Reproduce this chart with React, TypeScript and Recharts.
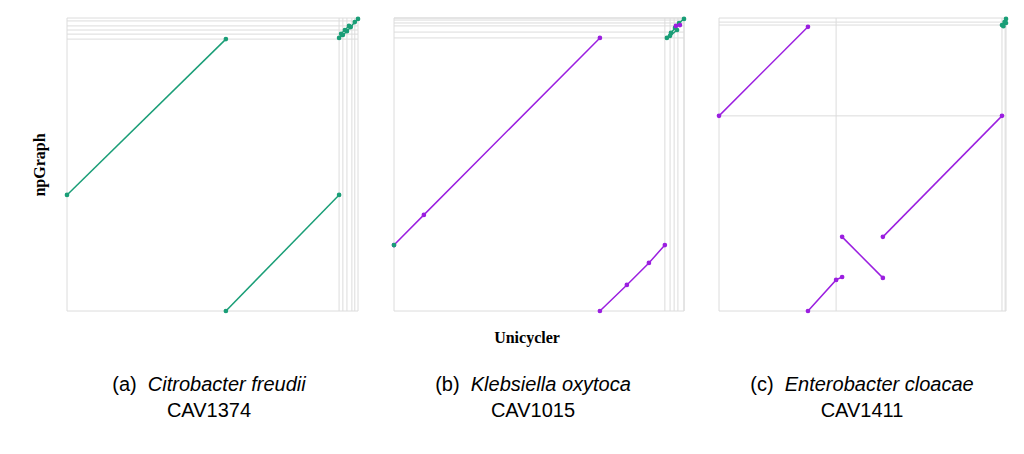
import React from 'react';
import { LineChart, Line, XAxis, YAxis, ReferenceLine } from 'recharts';

type Pt = { x: number; y: number };

const GREEN = '#1a9e77';
const PURPLE = '#9b1fe0';

// panel a: Citrobacter freudii CAV1374
const aSegments: { pts: Pt[]; color: string }[] = [
  { pts: [{ x: 0, y: 39.6 }, { x: 54.6, y: 92.8 }], color: GREEN },
  { pts: [{ x: 54.6, y: 0 }, { x: 93.5, y: 39.6 }], color: GREEN },
  { pts: [{ x: 93.5, y: 93.2 }, { x: 94.8, y: 94.2 }, { x: 96.2, y: 95.5 }, { x: 97.5, y: 96.9 }, { x: 98.9, y: 98.6 }, { x: 100, y: 99.7 }], color: GREEN },
  { pts: [{ x: 94.2, y: 94.6 }, { x: 95.5, y: 95.9 }, { x: 96.9, y: 97.3 }], color: GREEN },
];
const aGridX = [93.5, 94.8, 96.2, 97.9, 98.9];
const aGridY = [92.8, 94.5, 95.9, 97.3, 99];

// panel b: Klebsiella oxytoca CAV1015
const bSegments: { pts: Pt[]; color: string }[] = [
  { pts: [{ x: 0, y: 22.5 }, { x: 10.3, y: 32.8 }, { x: 71, y: 93.2 }], color: PURPLE },
  { pts: [{ x: 71, y: 0 }, { x: 80.3, y: 8.9 }, { x: 87.9, y: 16.4 }, { x: 93.4, y: 22.5 }], color: PURPLE },
  { pts: [{ x: 0, y: 22.5 }], color: GREEN },
  { pts: [{ x: 94.1, y: 93.2 }, { x: 95.5, y: 94.9 }, { x: 96.9, y: 96.6 }, { x: 98.3, y: 98.3 }, { x: 100, y: 99.7 }], color: GREEN },
  { pts: [{ x: 95.2, y: 93.9 }, { x: 97.6, y: 95.9 }], color: GREEN },
  { pts: [{ x: 97.2, y: 97.3 }, { x: 98.6, y: 97.6 }], color: PURPLE },
];
const bGridX = [93.4, 95.2, 96.6, 97.9, 100];
const bGridY = [93.2, 95.2, 97.3, 98.3, 99.3, 100];

// panel c: Enterobacter cloacae CAV1411
const cSegments: { pts: Pt[]; color: string }[] = [
  { pts: [{ x: 0, y: 66.6 }, { x: 31, y: 97 }], color: PURPLE },
  { pts: [{ x: 31, y: 0 }, { x: 40.8, y: 10.6 }, { x: 42.9, y: 11.6 }], color: PURPLE },
  { pts: [{ x: 42.9, y: 25.3 }, { x: 57.1, y: 11.3 }], color: PURPLE },
  { pts: [{ x: 57.1, y: 25.3 }, { x: 98.6, y: 66.6 }], color: PURPLE },
  { pts: [{ x: 98.6, y: 97.6 }, { x: 99.5, y: 98.6 }, { x: 100, y: 99.7 }], color: GREEN },
  { pts: [{ x: 99.1, y: 97.2 }, { x: 100, y: 98.3 }], color: GREEN },
];
const cGridX = [40.8, 98.6, 99.7];
const cGridY = [66.6, 97.6, 98.6];

const panels = [
  { left: 67, width: 291, segs: aSegments, gx: aGridX, gy: aGridY, label: '(a)', name: 'Citrobacter freudii', id: 'CAV1374', capX: 209 },
  { left: 394, width: 290, segs: bSegments, gx: bGridX, gy: bGridY, label: '(b)', name: 'Klebsiella oxytoca', id: 'CAV1015', capX: 533 },
  { left: 719, width: 287, segs: cSegments, gx: cGridX, gy: cGridY, label: '(c)', name: 'Enterobacter cloacae', id: 'CAV1411', capX: 862 },
];

const TOP = 18;
const H = 293;
const PAD = 5;

const Panel = ({ p }: { p: (typeof panels)[number] }) => (
  <div style={{ position: 'absolute', left: p.left - PAD, top: TOP - PAD }}>
    <LineChart width={p.width + PAD * 2} height={H + PAD * 2} margin={{ top: PAD, right: PAD, bottom: PAD, left: PAD }}>
      <XAxis type="number" dataKey="x" domain={[0, 100]} hide allowDuplicatedCategory={false} />
      <YAxis type="number" dataKey="y" domain={[0, 100]} hide />
      {[0, 100, ...p.gx].map((v, i) => (
        <ReferenceLine key={'x' + i} x={v} stroke="#dcdcdc" strokeWidth={1} />
      ))}
      {[0, 100, ...p.gy].map((v, i) => (
        <ReferenceLine key={'y' + i} y={v} stroke="#dcdcdc" strokeWidth={1} />
      ))}
      {p.segs.map((s, i) => (
        <Line
          key={i}
          data={s.pts}
          dataKey="y"
          type="linear"
          stroke={s.color}
          strokeWidth={1.5}
          dot={{ r: 1.6, fill: s.color, stroke: s.color }}
          isAnimationActive={false}
        />
      ))}
    </LineChart>
  </div>
);

export default function App() {
  return (
    <div style={{ position: 'absolute', left: 0, top: 0, width: 1024, height: 454, background: '#fff' }}>
      {panels.map((p, i) => (
        <Panel key={i} p={p} />
      ))}
      <div
        style={{
          position: 'absolute', left: 40, top: 165, transform: 'translate(-50%,-50%) rotate(-90deg)',
          fontFamily: '"Liberation Serif", serif', fontWeight: 'bold', fontSize: 16,
        }}
      >
        npGraph
      </div>
      <div
        style={{
          position: 'absolute', left: 527, top: 338, transform: 'translate(-50%,-50%)',
          fontFamily: '"Liberation Serif", serif', fontWeight: 'bold', fontSize: 16,
        }}
      >
        Unicycler
      </div>
      {panels.map((p, i) => (
        <div key={'c' + i} style={{ position: 'absolute', left: p.capX, top: 371, transform: 'translateX(-50%)', fontFamily: '"Liberation Sans", Arial, sans-serif', fontSize: 20, textAlign: 'center', whiteSpace: 'nowrap', lineHeight: '26px' }}>
          <div>{p.label}&nbsp;&nbsp;<i>{p.name}</i></div>
          <div>{p.id}</div>
        </div>
      ))}
    </div>
  );
}
